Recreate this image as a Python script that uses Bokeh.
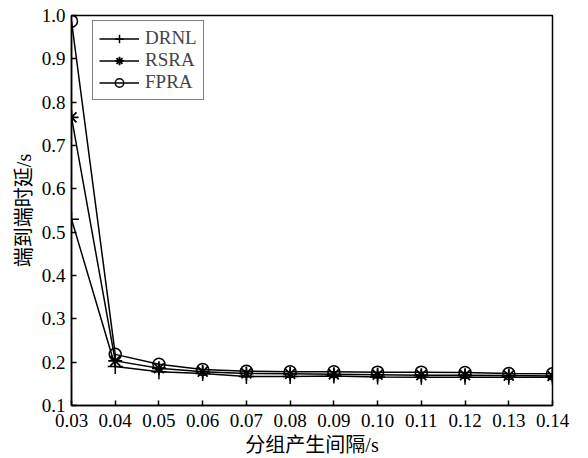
from bokeh.plotting import figure
from bokeh.embed import file_html
from bokeh.resources import INLINE
from bokeh.models import Range1d, FixedTicker, Legend, LegendItem

x_vals = [0.03, 0.04, 0.05, 0.06, 0.07, 0.08, 0.09, 0.10, 0.11, 0.12, 0.13, 0.14]
drnl = [0.53, 0.19, 0.178, 0.174, 0.167, 0.167, 0.168, 0.166, 0.165, 0.165, 0.165, 0.165]
rsra = [0.765, 0.203, 0.186, 0.178, 0.174, 0.173, 0.172, 0.171, 0.170, 0.170, 0.169, 0.168]
fpra = [0.987, 0.218, 0.195, 0.183, 0.179, 0.178, 0.178, 0.177, 0.177, 0.176, 0.174, 0.173]
x_ticks = [0.03, 0.04, 0.05, 0.06, 0.07, 0.08, 0.09, 0.10, 0.11, 0.12, 0.13, 0.14]
x_tick_labels = ["0.03", "0.04", "0.05", "0.06", "0.07", "0.08", "0.09", "0.10", "0.11", "0.12", "0.13", "0.14"]
y_ticks = [0.1, 0.2, 0.3, 0.4, 0.5, 0.6, 0.7, 0.8, 0.9, 1.0]
y_tick_labels = ["0.1", "0.2", "0.3", "0.4", "0.5", "0.6", "0.7", "0.8", "0.9", "1.0"]

FONT = "'Liberation Serif', 'Noto Sans CJK SC'"

p = figure(width=580, height=458, output_backend="svg", toolbar_location=None,
           x_range=Range1d(0.03, 0.14), y_range=Range1d(0.1, 1.0),
           min_border_left=71, min_border_right=28, min_border_top=15, min_border_bottom=53)
p.grid.visible = False
p.outline_line_color = "black"
p.outline_line_width = 1.5
p.background_fill_color = "white"

for ax in (p.xaxis[0], p.yaxis[0]):
    ax.major_tick_in = 5
    ax.major_tick_out = 0
    ax.minor_tick_in = 0
    ax.minor_tick_out = 0
    ax.axis_line_width = 1.5
    ax.major_tick_line_width = 1.5
    ax.major_label_text_font = FONT
    ax.major_label_text_font_size = "19px"
    ax.major_label_text_color = "black"
    ax.axis_label_text_font = FONT
    ax.axis_label_text_font_size = "20px"
    ax.axis_label_text_font_style = "normal"
    ax.axis_label_text_color = "black"

p.xaxis[0].ticker = FixedTicker(ticks=x_ticks)
p.xaxis[0].major_label_overrides = {t: l for t, l in zip(x_ticks, x_tick_labels)}
p.yaxis[0].ticker = FixedTicker(ticks=y_ticks)
p.yaxis[0].major_label_overrides = {t: l for t, l in zip(y_ticks, y_tick_labels)}
p.xaxis[0].axis_label = "分组产生间隔/s"
p.yaxis[0].axis_label = "端到端时延/s"
p.xaxis[0].major_label_standoff = 8
p.yaxis[0].major_label_standoff = 6
p.xaxis[0].axis_label_standoff = 4
p.yaxis[0].axis_label_standoff = 4

l1 = p.line(x_vals, drnl, line_color="black", line_width=1.5)
m1 = p.scatter(x_vals, drnl, marker="cross", size=15, line_color="black", line_width=1.5)
l2 = p.line(x_vals, rsra, line_color="black", line_width=1.5)
m2 = p.scatter(x_vals, rsra, marker="asterisk", size=14, line_color="black", line_width=1.8)
l3 = p.line(x_vals, fpra, line_color="black", line_width=1.5)
m3 = p.scatter(x_vals, fpra, marker="circle", size=12, line_color="black", fill_color="white",
               fill_alpha=0.0, line_width=1.5)
items = [LegendItem(label="DRNL", renderers=[l1, m1]),
         LegendItem(label="RSRA", renderers=[l2, m2]),
         LegendItem(label="FPRA", renderers=[l3, m3])]
legend = Legend(items=items)
legend.border_line_color = "black"
legend.border_line_width = 1.5
legend.label_text_font = FONT
legend.label_text_font_size = "19px"
legend.glyph_width = 40
legend.glyph_height = 21
legend.label_height = 21
legend.spacing = 0
legend.padding = 6
legend.margin = 0
legend.label_standoff = 6
legend.location = (21, 305)
legend.background_fill_alpha = 1.0
p.add_layout(legend, "center")

open("out.html", "w").write(file_html(p, INLINE))
